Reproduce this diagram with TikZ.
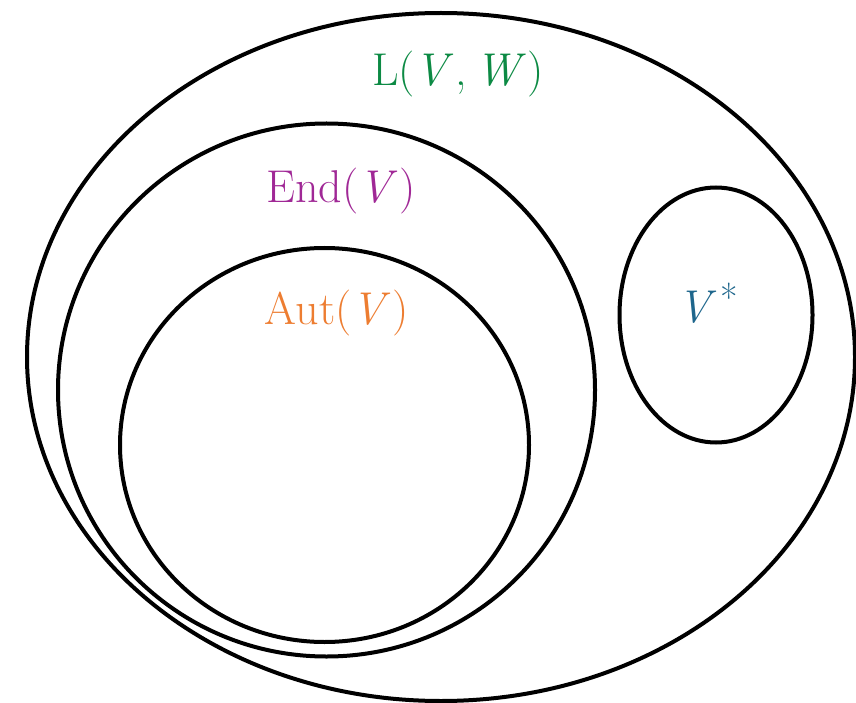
\documentclass[tikz,border=0pt]{standalone}
\usepackage{fontspec}
\definecolor{lgreen}{RGB}{12,138,68}
\definecolor{epurple}{RGB}{160,40,150}
\definecolor{aorange}{RGB}{237,125,49}
\definecolor{vblue}{RGB}{30,102,140}
\newcommand{\vi}[1]{\textit{#1}\kern0.04em}
\begin{document}
\begin{tikzpicture}[x=1pt,y=-1pt,
  set/.style={draw=black,line width=4pt},
  lbl/.style={anchor=base,inner sep=0pt,font=\fontsize{46}{50}\selectfont}]
\useasboundingbox (0,0) rectangle (856,703);
\draw[set] (441,357) ellipse (414 and 344);
\draw[set] (326.5,390) ellipse (268.5 and 266.5);
\draw[set] (324.5,445) ellipse (204.5 and 197);
\draw[set] (716,315) ellipse (96.5 and 127.5);
\node[lbl,text=lgreen] (lvw) at (458,86) {L(\vi{V},\,\vi{W})};
\node[lbl,text=epurple] (endv) at (341,203) {End(\vi{V})};
\node[lbl,text=aorange] (autv) at (337,324) {Aut(\vi{V})};
\node[lbl,text=vblue] (vstar) at (708,322) {\vi{V}\kern0.05em\raisebox{0.22em}{\fontsize{38}{40}\selectfont *}};
\end{tikzpicture}
\end{document}
